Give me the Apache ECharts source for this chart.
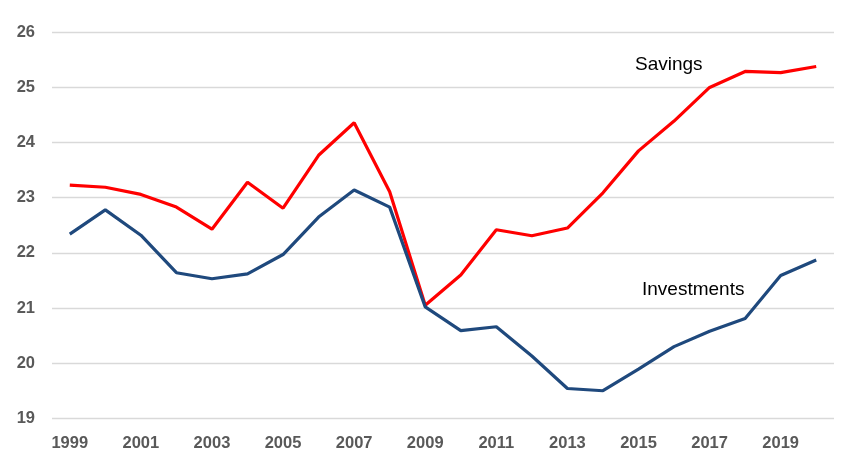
<!DOCTYPE html>
<html>
<head>
<meta charset="utf-8">
<script src="https://cdn.jsdelivr.net/npm/echarts@6/dist/echarts.min.js"></script>
<style>html,body{margin:0;padding:0;background:#fff}#c{width:849px;height:463px}</style>
</head>
<body>
<div id="c"></div>
<script>
const years = ['1999','2000','2001','2002','2003','2004','2005','2006','2007','2008','2009','2010','2011','2012','2013','2014','2015','2016','2017','2018','2019','2020'];
const savings = [23.23,23.19,23.06,22.83,22.43,23.28,22.81,23.77,24.36,23.11,21.05,21.6,22.42,22.31,22.45,23.09,23.85,24.39,25.0,25.29,25.27,25.38];
const investments = [22.34,22.78,22.32,21.64,21.53,21.62,21.97,22.65,23.14,22.83,21.02,20.59,20.66,20.13,19.54,19.5,19.89,20.3,20.58,20.81,21.59,21.87];
const yTicks = [19,20,21,22,23,24,25,26];

const chart = echarts.init(document.getElementById('c'), null, {renderer:'canvas'});
chart.setOption({
  animation:false,
  backgroundColor:'#fff',
  grid:{left:52,right:15,top:32.3,bottom:44.7,containLabel:false},
  xAxis:{
    type:'category', data:years, boundaryGap:true,
    axisLine:{show:false}, axisTick:{show:false},
    axisLabel:{interval:1, color:'#595959', fontWeight:'bold', fontSize:16.5, fontFamily:'Liberation Sans, Arial, sans-serif', margin:17}
  },
  yAxis:{
    type:'value', min:yTicks[0], max:yTicks[yTicks.length-1], interval:1,
    axisLine:{show:false}, axisTick:{show:false},
    splitLine:{lineStyle:{color:'#d9d9d9', width:1.3}},
    axisLabel:{color:'#595959', fontWeight:'bold', fontSize:16.5, fontFamily:'Liberation Sans, Arial, sans-serif', margin:17}
  },
  series:[
    {name:'Savings', type:'line', data:savings, symbol:'none', lineStyle:{color:'#ff0000', width:3.2}, itemStyle:{color:'#ff0000'}, z:2},
    {name:'Investments', type:'line', data:investments, symbol:'none', lineStyle:{color:'#1f497d', width:3.2}, itemStyle:{color:'#1f497d'}, z:3}
  ],
  graphic:[
    {type:'text', left:635, top:55, style:{text:'Savings', fill:'#000', fontSize:19, fontFamily:'Liberation Sans, Arial, sans-serif'}},
    {type:'text', left:642, top:280, style:{text:'Investments', fill:'#000', fontSize:19, fontFamily:'Liberation Sans, Arial, sans-serif'}}
  ]
});
</script>
</body>
</html>
